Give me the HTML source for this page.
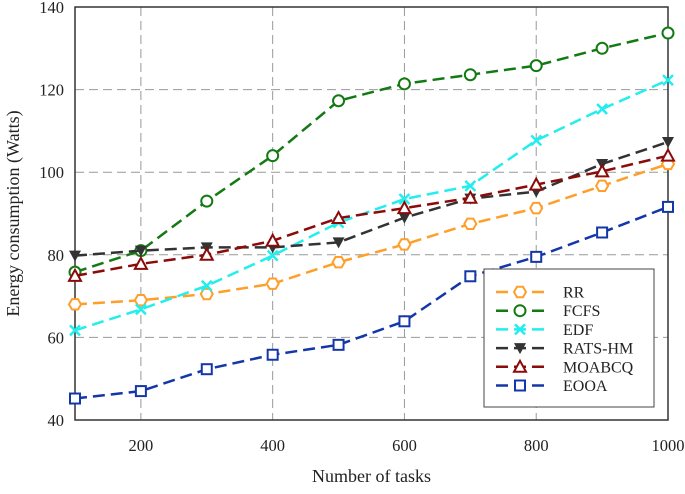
<!DOCTYPE html>
<html><head><meta charset="utf-8"><style>
body{margin:0;background:#fff}
svg text{font-family:"Liberation Serif",serif;fill:#222}
</style></head><body>
<svg id="c" width="685" height="489"></svg>
<script>
const categories=[100,200,300,400,500,600,700,800,900,1000];
const rr=[68,69,70.5,73,78.2,82.5,87.5,91.3,96.7,102];
const fcfs=[75.8,81,93,104,117.3,121.4,123.6,125.8,130,133.7];
const edf=[61.7,66.8,72.5,79.8,87.8,93.5,96.7,107.7,115.3,122.3];
const ratsHm=[79.8,81,81.8,81.8,83,89,93.6,95.3,102,107.3];
const moabcq=[74.9,77.8,80,83.4,88.9,91.3,93.8,97,100.2,104];
const eooa=[45.2,47,52.3,55.8,58.2,63.9,74.8,79.5,85.4,91.6];
const xTicks=[200,400,600,800,1000];
const yTicks=[40,60,80,100,120,140];
const seriesNames=["RR","FCFS","EDF","RATS-HM","MOABCQ","EOOA"];

const NS="http://www.w3.org/2000/svg";
const svg=document.getElementById('c');
const L=75,R=668,T=7,B=420;
const xs=v=>L+(v-100)/900*(R-L);
const ys=v=>B-(v-40)/100*(B-T);
function mk(tag,attrs,parent){const e=document.createElementNS(NS,tag);for(const k in attrs)e.setAttribute(k,attrs[k]);(parent||svg).appendChild(e);return e;}
yTicks.forEach(v=>{
  if(v>40&&v<140){const g=mk('line',{x1:L,x2:R,y1:ys(v),y2:ys(v),stroke:'#999','stroke-dasharray':'9,5','stroke-width':1});
  
  }
  const t=mk('text',{x:L-11,y:ys(v)+6,'text-anchor':'end','font-size':16.5});t.textContent=v;
  
  
});
xTicks.forEach(v=>{
  if(v<1000){const g=mk('line',{x1:xs(v),x2:xs(v),y1:T,y2:B,stroke:'#999','stroke-dasharray':'9,5','stroke-width':1});
  
  }
  const t=mk('text',{x:xs(v),y:B+31,'text-anchor':'middle','font-size':16.5});t.textContent=v;
  
  
});
const frame=mk('rect',{x:L,y:T,width:R-L,height:B-T,fill:'none',stroke:'#333','stroke-width':1.5});


const xt=mk('text',{x:(L+R)/2,y:482,'text-anchor':'middle','font-size':18});xt.textContent='Number of tasks';


const yt=mk('text',{x:0,y:0,'text-anchor':'middle','font-size':18,transform:`translate(19,${(T+B)/2}) rotate(-90)`});yt.textContent='Energy consumption (Watts)';



const colors=['#ff9f2a','#137a13','#22eeee','#333333','#8b0a0a','#1437a8'];
const markers=['hex','circle','x','tridown','triup','square'];
const data=[rr,fcfs,edf,ratsHm,moabcq,eooa];
function marker(type,x,y,c,p){
  let e;
  if(type==='circle')e=mk('circle',{cx:x,cy:y,r:5.5,fill:'#fff',stroke:c,'stroke-width':2},p);
  else if(type==='hex'){let pts=[];for(let i=0;i<6;i++){const a=Math.PI/3*i;pts.push((x+6*Math.cos(a))+','+(y+6*Math.sin(a)));}
    e=mk('polygon',{points:pts.join(' '),fill:'#fff',stroke:c,'stroke-width':2},p);}
  else if(type==='x')e=mk('path',{d:`M${x-5},${y-5}L${x+5},${y+5}M${x-5},${y+5}L${x+5},${y-5}`,stroke:c,'stroke-width':2.5,fill:'none'},p);
  else if(type==='tridown')e=mk('polygon',{points:`${x-6},${y-5} ${x+6},${y-5} ${x},${y+6}`,fill:c},p);
  else if(type==='triup')e=mk('polygon',{points:`${x-6},${y+5} ${x+6},${y+5} ${x},${y-6}`,fill:'#fff',stroke:c,'stroke-width':2},p);
  else e=mk('rect',{x:x-5,y:y-5,width:10,height:10,fill:'#fff',stroke:c,'stroke-width':2},p);
  return e;
}
data.forEach((s,i)=>{
  const g=mk('g',{});
  
  
  const d=s.map((v,j)=>(j?'L':'M')+xs(categories[j])+','+ys(v)).join('');
  mk('path',{d:d,fill:'none',stroke:colors[i],'stroke-width':2.5,'stroke-dasharray':'12,6'},g);
  s.forEach((v,j)=>{const m=marker(markers[i],xs(categories[j]),ys(v),colors[i],g);
    
    });
});
const lg=mk('g',{});


mk('rect',{x:484,y:269,width:170,height:138,fill:'#fff',stroke:'#444','stroke-width':1},lg);
seriesNames.forEach((n,i)=>{
  const y=292+i*18.7;
  const e=mk('g',{},lg);
  
  
  mk('line',{x1:496,x2:544,y1:y,y2:y,stroke:colors[i],'stroke-width':2.5,'stroke-dasharray':'12,6'},e);
  marker(markers[i],520,y,colors[i],e);
  const t=mk('text',{x:563,y:y+5.5,'font-size':16},e);t.textContent=n;
});
</script>
</body></html>
